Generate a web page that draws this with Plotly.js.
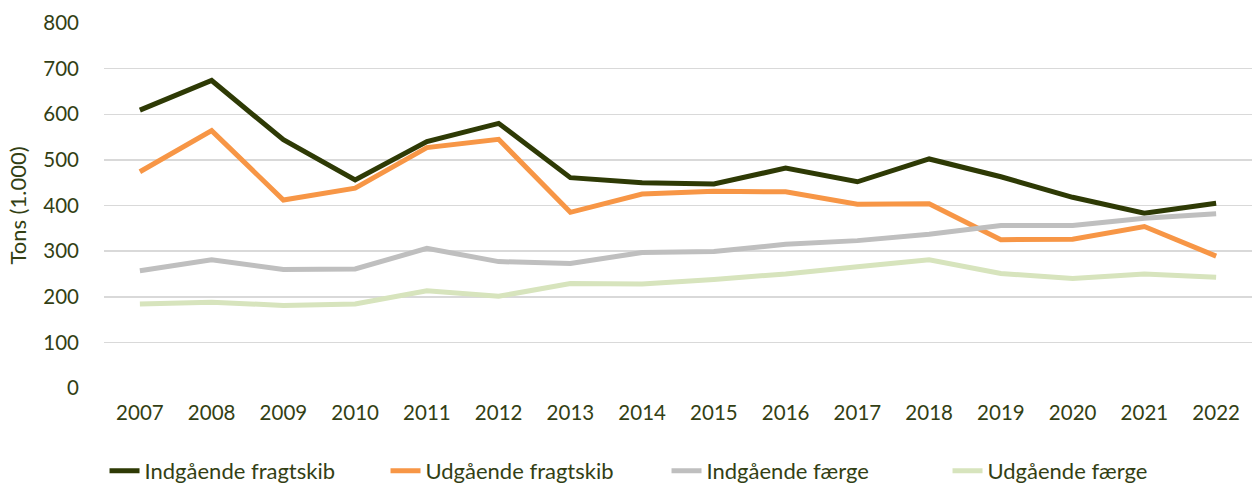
<!DOCTYPE html>
<html><head><meta charset="utf-8">
<script src="https://cdn.plot.ly/plotly-3.0.1.min.js"></script>
<style>html,body{margin:0;padding:0;background:#fff}#c{width:1255px;height:483px}</style>
</head><body><div id="c"></div>
<script>
const years = ['2007','2008','2009','2010','2011','2012','2013','2014','2015','2016','2017','2018','2019','2020','2021','2022'];
const indFragt = [609,674,544,456,540,580,461,450,447,482,452,502,463,418,383,405];
const udFragt  = [474,564,412,438,527,545,385,425,431,430,403,404,325,326,354,289];
const indFaerge = [257,281,260,261,306,277,273,297,299,315,323,337,356,356,372,382];
const udFaerge  = [184,188,181,184,213,201,229,228,238,250,266,281,251,240,250,243];
const names = ['Indgående fragtskib','Udgående fragtskib','Indgående færge','Udgående færge'];
const colors = ['#2E3A05','#F79646','#BFBFBF','#D7E4BD'];
const series = [indFragt, udFragt, indFaerge, udFaerge];
const txt = '#333F14';
const data = series.map((s,i)=>({x:years,y:s,type:'scatter',mode:'lines',name:names[i],
  line:{color:colors[i],width:5}}));
const layout = {
  width:1255,height:483,
  margin:{l:104,r:3,t:23,b:95},
  paper_bgcolor:'#fff',plot_bgcolor:'#fff',
  font:{family:'Lato, "Open Sans", sans-serif',size:20,color:txt},
  xaxis:{type:'category',range:[-0.5,15.5],showgrid:false,zeroline:false,showline:false,ticks:'',automargin:false,
    tickfont:{size:20.5,color:txt},ticklabelstandoff:10},
  yaxis:{range:[0,800],dtick:100,showgrid:true,gridcolor:'#D9D9D9',gridwidth:1.5,zeroline:false,showline:false,automargin:false,
    ticks:'',tickfont:{size:20.5,color:txt},ticklabelstandoff:24,
    title:{text:'Tons (1.000)',font:{size:22,color:txt},standoff:10}},
  showlegend:true,
  legend:{orientation:'h',x:0.49,xanchor:'center',yref:'container',y:0.025,yanchor:'middle',font:{size:22,color:txt},
    entrywidth:236,entrywidthmode:'pixels',tracegroupgap:0,itemsizing:'constant'},
};
Plotly.newPlot('c',data,layout,{displayModeBar:false,staticPlot:true});
</script></body></html>
